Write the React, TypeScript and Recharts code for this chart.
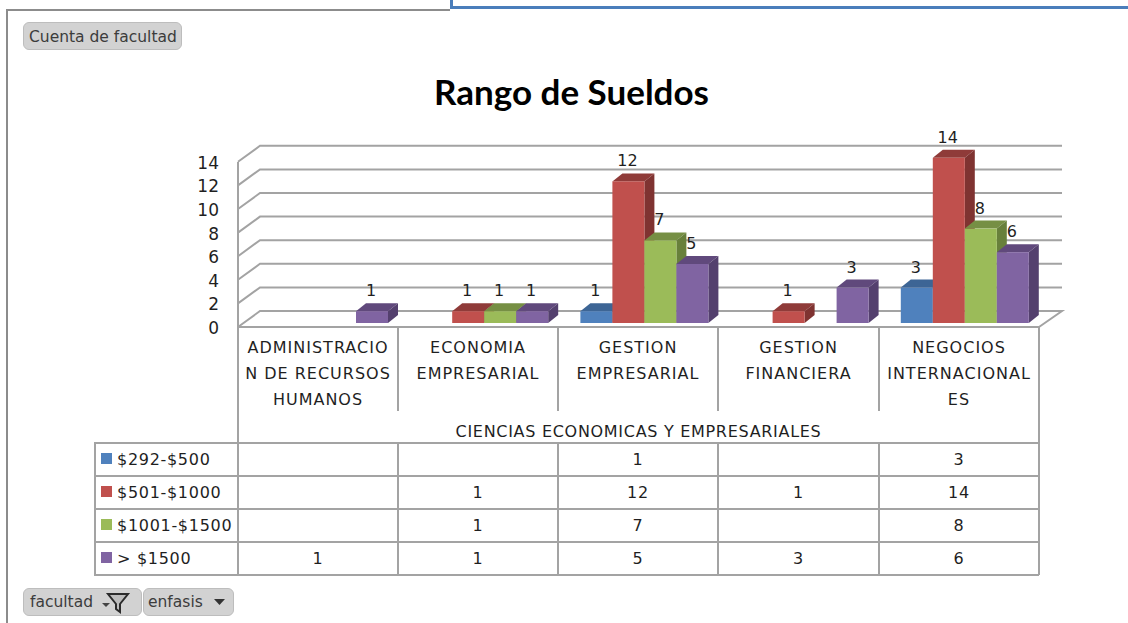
import React from 'react';
import { BarChart, Bar, CartesianGrid, LabelList, XAxis, YAxis } from 'recharts';

const categories = ['ADMINISTRACION DE RECURSOS HUMANOS', 'ECONOMIA EMPRESARIAL', 'GESTION EMPRESARIAL', 'GESTION FINANCIERA', 'NEGOCIOS INTERNACIONALES'];
const categoryLines = [
  ['ADMINISTRACIO', 'N DE RECURSOS', 'HUMANOS'],
  ['ECONOMIA', 'EMPRESARIAL'],
  ['GESTION', 'EMPRESARIAL'],
  ['GESTION', 'FINANCIERA'],
  ['NEGOCIOS', 'INTERNACIONAL', 'ES'],
];
const yTicks = [0, 2, 4, 6, 8, 10, 12, 14];

const sueldo292 = [null, null, 1, null, 3];
const sueldo501 = [null, 1, 12, 1, 14];
const sueldo1001 = [null, 1, 7, null, 8];
const sueldo1500 = [1, 1, 5, 3, 6];

const seriesNames = ['$292-$500', '$501-$1000', '$1001-$1500', '> $1500'];
const seriesValues = [sueldo292, sueldo501, sueldo1001, sueldo1500];
const seriesKeys = ['a', 'b', 'c', 'd'];
const faceColors = ['#4f81bd', '#c0504d', '#9bbb59', '#8064a2'];
const topColors = ['#3d6595', '#8f3b39', '#768f44', '#60497c'];
const sideColors = ['#355a85', '#7f3331', '#68803b', '#54406e'];

const chartData = categories.map((name, i) => ({
  name,
  a: sueldo292[i],
  b: sueldo501[i],
  c: sueldo1001[i],
  d: sueldo1500[i],
}));

const FONT = '"DejaVu Sans", sans-serif';
const TEXT = '#1f1f1f';
const LINE = '#a3a3a3';

// chart plot area, this is where the front faces of the bars sit
const plotLeft = 244;
const plotRight = 1045;
const plotTop = 157.8;
const plotBottom = 323;

// table geometry
const colX = [238, 398, 558, 718, 879, 1039];
const rowY = [443, 476, 509, 542, 575];

function Bar3D(props: any) {
  const { x, y, width, height, seriesIndex } = props;
  if (!height || height <= 0) return null;
  const dx = 10;
  const dy = -8;
  const r = x + width;
  const b = y + height;
  return (
    <g>
      <polygon points={`${x},${y} ${x + dx},${y + dy} ${r + dx},${y + dy} ${r},${y}`} fill={topColors[seriesIndex]} />
      <polygon points={`${r},${y} ${r + dx},${y + dy} ${r + dx},${b + dy} ${r},${b}`} fill={sideColors[seriesIndex]} />
      <rect x={x} y={y} width={width} height={height} fill={faceColors[seriesIndex]} />
    </g>
  );
}

function DataLabel(props: any) {
  const { x, y, width, value } = props;
  if (value === null || value === undefined) return null;
  return (
    <text x={x + width / 2 - 1} y={y - 15} textAnchor="middle" fontFamily={FONT} fontSize={16} fill={TEXT}>
      {value}
    </text>
  );
}

// wall line for one y tick: front edge, then along the back wall
function WallLine(props: any) {
  const { y1, index } = props;
  const fy = y1 + 4;
  const by = fy - 16;
  const isFloor = Math.abs(y1 - plotBottom) < 1;
  const d = isFloor
    ? `M238,${fy} L260,${by} L1062,${by} L1039,${fy}`
    : `M238,${fy} L260,${by} L1062,${by}`;
  return <path key={index} d={d} fill="none" stroke={LINE} strokeWidth={2} />;
}

function YTick(props: any) {
  const { y, payload } = props;
  return (
    <text x={219} y={y + 11} textAnchor="end" fontFamily={FONT} fontSize={17} fill={TEXT}>
      {payload.value}
    </text>
  );
}

const box = (left: number, top: number, width: number, height: number, extra = {}): React.CSSProperties => ({
  position: 'absolute',
  left,
  top,
  width,
  height,
  ...extra,
});

function VLine({ x, y1, y2 }: { x: number; y1: number; y2: number }) {
  return <div style={box(x - 1, y1, 2, y2 - y1, { background: LINE })} />;
}

function HLine({ x1, x2, y }: { x1: number; x2: number; y: number }) {
  return <div style={box(x1, y - 1, x2 - x1, 2, { background: LINE })} />;
}

function CellText({ x, w, y, h, children, align = 'center', spacing = 0.7 }: any) {
  return (
    <div
      style={box(x, y, w, h, {
        display: 'flex',
        alignItems: 'center',
        justifyContent: align,
        fontFamily: FONT,
        fontSize: 16,
        letterSpacing: spacing,
        color: TEXT,
        whiteSpace: 'nowrap',
      })}
    >
      {children}
    </div>
  );
}

const pillStyle: React.CSSProperties = {
  background: '#d2d2d2',
  border: '1px solid #bdbdbd',
  borderRadius: 6,
  boxSizing: 'border-box',
  fontFamily: FONT,
  fontSize: 15.5,
  color: '#3c3c3c',
  display: 'flex',
  alignItems: 'center',
  whiteSpace: 'nowrap',
};

function DataTable() {
  return (
    <>
      {colX.map((x, i) =>
        i === 0 || i === colX.length - 1 ? (
          <VLine key={x} x={x} y1={327} y2={rowY[4]} />
        ) : (
          <React.Fragment key={x}>
            <VLine x={x} y1={327} y2={411} />
            <VLine x={x} y1={rowY[0]} y2={rowY[4]} />
          </React.Fragment>
        ),
      )}
      <VLine x={95} y1={rowY[0]} y2={rowY[4]} />
      <HLine x1={238} x2={1039} y={327} />
      {rowY.map((y) => (
        <HLine key={y} x1={94} x2={1039} y={y} />
      ))}

      {categoryLines.map((lines, i) =>
        lines.map((line, j) => (
          <CellText key={line + i} x={colX[i]} w={colX[i + 1] - colX[i]} y={334 + j * 26} h={26} spacing={1}>
            {line}
          </CellText>
        )),
      )}
      <CellText x={238} w={801} y={416} h={30}>
        CIENCIAS ECONOMICAS Y EMPRESARIALES
      </CellText>

      {seriesNames.map((name, s) => (
        <React.Fragment key={name}>
          <div style={box(101, rowY[s] + 10, 11, 11, { background: faceColors[s] })} />
          <CellText x={117} w={120} y={rowY[s]} h={33} align="flex-start">
            {name}
          </CellText>
          {seriesValues[s].map((value, c) =>
            value === null ? null : (
              <CellText key={c} x={colX[c]} w={colX[c + 1] - colX[c]} y={rowY[s]} h={33}>
                {value}
              </CellText>
            ),
          )}
        </React.Fragment>
      ))}
    </>
  );
}

export default function App() {
  return (
    <div style={box(0, 0, 1128, 623, { background: '#fff', overflow: 'hidden' })}>
      {/* sheet frame and the selected cell border behind the chart */}
      <div style={box(6, 9, 444, 2, { background: '#8c8c8c' })} />
      <div style={box(6, 9, 2, 614, { background: '#8c8c8c' })} />
      <div style={box(450, -4, 700, 10, { borderLeft: '3px solid #4a7ebb', borderBottom: '3px solid #4a7ebb' })} />

      <div style={{ ...box(23, 22, 159, 28), ...pillStyle, paddingLeft: 5, paddingTop: 2 }}>Cuenta de facultad</div>

      <div
        style={box(0, 70, 1143, 44, {
          textAlign: 'center',
          fontFamily: 'Lato, sans-serif',
          fontWeight: 700,
          fontSize: 35,
          color: '#000',
        })}
      >
        Rango de Sueldos
      </div>

      <div style={box(0, 0, 1128, 623)}>
        <BarChart
          width={1128}
          height={623}
          data={chartData}
          margin={{ left: 190, right: 1128 - plotRight, top: plotTop, bottom: 623 - plotBottom }}
          barGap={0}
          barCategoryGap={16}
        >
          <CartesianGrid vertical={false} horizontal={WallLine} syncWithTicks />
          <XAxis dataKey="name" hide />
          <YAxis
            width={plotLeft - 190}
            domain={[0, 14]}
            ticks={yTicks}
            interval={0}
            axisLine={false}
            tickLine={false}
            tick={YTick}
          />
          {seriesKeys.map((key, s) => (
            <Bar
              key={key}
              dataKey={key}
              isAnimationActive={false}
              shape={(p: any) => <Bar3D {...p} seriesIndex={s} />}
            >
              <LabelList dataKey={key} content={DataLabel} />
            </Bar>
          ))}
        </BarChart>
      </div>

      {/* front left edge of the wall */}
      <VLine x={238} y1={162} y2={327} />

      <DataTable />

      <div style={{ ...box(23, 588, 119, 28), ...pillStyle, paddingLeft: 6 }}>
        facultad
        <svg width="38" height="24" style={{ marginLeft: 0 }}>
          <path d="M9,13 h8 l-4,4 z" fill="#444" />
          <path d="M15,4 h20 l-8,10 v8 l-4,-3 v-5 z" fill="#bdbdbd" stroke="#2b2b2b" strokeWidth={2} />
        </svg>
      </div>
      <div style={{ ...box(143, 588, 91, 28), ...pillStyle, paddingLeft: 4 }}>
        enfasis
        <svg width="18" height="12" style={{ marginLeft: 9 }}>
          <path d="M2,3 h11 l-5.5,6 z" fill="#333" />
        </svg>
      </div>
    </div>
  );
}
